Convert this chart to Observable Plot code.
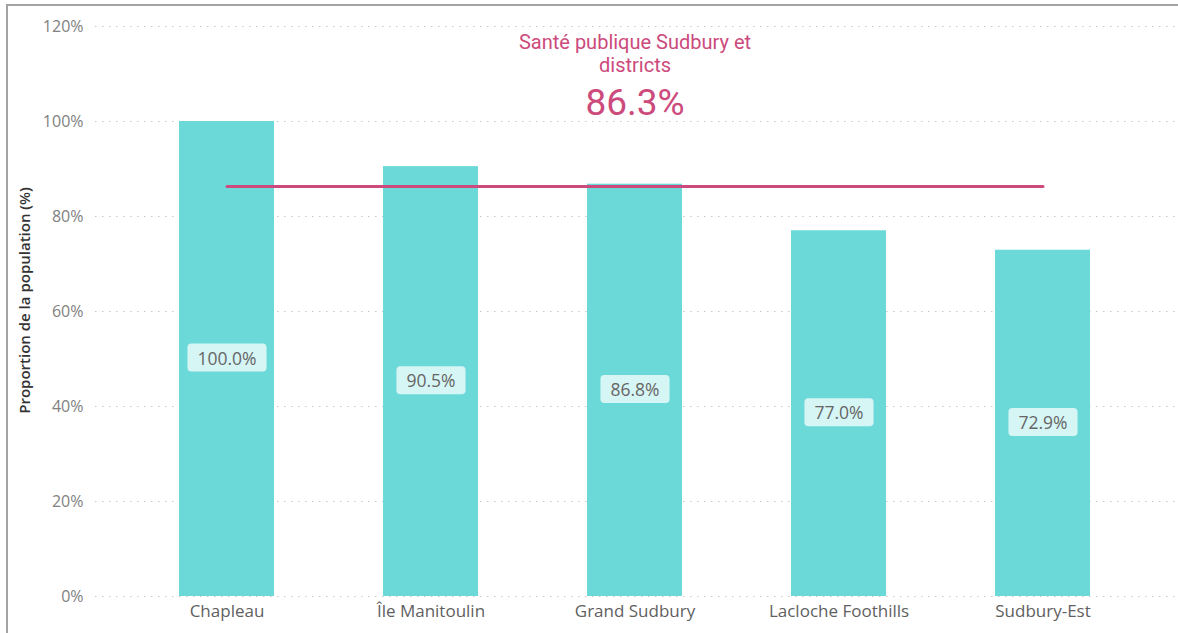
<!DOCTYPE html>
<html><head><meta charset="utf-8">
<script src="https://cdn.jsdelivr.net/npm/d3@7"></script>
<script src="https://cdn.jsdelivr.net/npm/@observablehq/plot@0.6"></script>
<style>
html,body{margin:0;padding:0;background:#fff;}
#wrap{position:relative;width:1178px;height:633px;overflow:hidden;}
#chart svg{display:block;}
#frame{position:absolute;left:6px;top:4px;right:-10px;bottom:-10px;border-top:2px solid #a3a3a3;border-left:2px solid #a3a3a3;pointer-events:none;}
</style></head><body><div id="wrap"><div id="chart"></div><div id="frame"></div></div>
<script>
const regions = ["Chapleau", "Île Manitoulin", "Grand Sudbury", "Lacloche Foothills", "Sudbury-Est"];
const values = [100.0, 90.5, 86.8, 77.0, 72.9];
const benchmarkLabel = "Santé publique Sudbury et\ndistricts";
const benchmarkValue = 86.3;
const yTicks = [0, 20, 40, 60, 80, 100, 120];
const yTitle = "Proportion de la population (%)";

const rows = regions.map((r, i) => ({region: r, value: values[i]}));
const teal = "#6cd9d9";
const pink = "#cc4a7c";

const chart = Plot.plot({
  width: 1178,
  height: 633,
  marginTop: 26,
  marginBottom: 37,
  marginLeft: 95,
  marginRight: 0,
  style: {fontFamily: "'Open Sans', 'Noto Sans', sans-serif", background: "#fff"},
  x: {domain: regions, range: [92.5, 1175.5], paddingInner: 0.5355, paddingOuter: 0.4157, label: null},
  y: {domain: [0, 120], label: null},
  marks: [
    Plot.gridY(yTicks, {stroke: "#c8c8c8", strokeOpacity: 1, strokeDasharray: "1.5,5.5", strokeWidth: 1.2}),
    Plot.barY(rows, {x: "region", y: "value", fill: teal}),
    Plot.text(rows, {x: "region", y: d => d.value / 2, text: d => d.value.toFixed(1) + "%", fill: "#666", fontSize: 17.5, className: "barlabel"}),
    Plot.line(regions, {x: d => d, y: () => benchmarkValue, stroke: pink, strokeWidth: 3}),
    Plot.text([benchmarkLabel], {x: () => "Grand Sudbury", frameAnchor: "top", lineAnchor: "top", dy: 7, text: d => d, fill: pink, fontSize: 20, lineHeight: 1.12, fontFamily: "Roboto, sans-serif"}),
    Plot.text([benchmarkValue], {x: () => "Grand Sudbury", frameAnchor: "top", lineAnchor: "top", dy: 62, text: d => d.toFixed(1) + "%", fill: pink, fontSize: 37, fontFamily: "Roboto, sans-serif"}),
    Plot.axisY({ticks: yTicks, tickSize: 0, tickPadding: 12, tickFormat: d => d + "%", fontSize: 16, color: "#818181", label: null}),
    Plot.axisX({tickSize: 0, tickPadding: 8, fontSize: 17, color: "#5f5f5f", label: null}),
    Plot.text([yTitle], {frameAnchor: "left", textAnchor: "middle", rotate: -90, dx: -70, dy: -11, text: d => d, fill: "#333", fontSize: 15, fontWeight: 600})
  ]
});

document.getElementById("chart").appendChild(chart);

// rounded label backgrounds behind bar values
chart.querySelectorAll("g.barlabel text").forEach(t => {
  const b = t.getBBox();
  const r = document.createElementNS("http://www.w3.org/2000/svg", "rect");
  const px = 10, py = 2;
  r.setAttribute("x", b.x - px);
  r.setAttribute("y", b.y - py);
  r.setAttribute("width", b.width + 2 * px);
  r.setAttribute("height", b.height + 2 * py);
  r.setAttribute("rx", 4);
  r.setAttribute("fill", "#ffffff");
  r.setAttribute("fill-opacity", 0.72);
  if (t.getAttribute("transform")) r.setAttribute("transform", t.getAttribute("transform"));
  t.parentNode.insertBefore(r, t);
});
</script>
</body></html>
